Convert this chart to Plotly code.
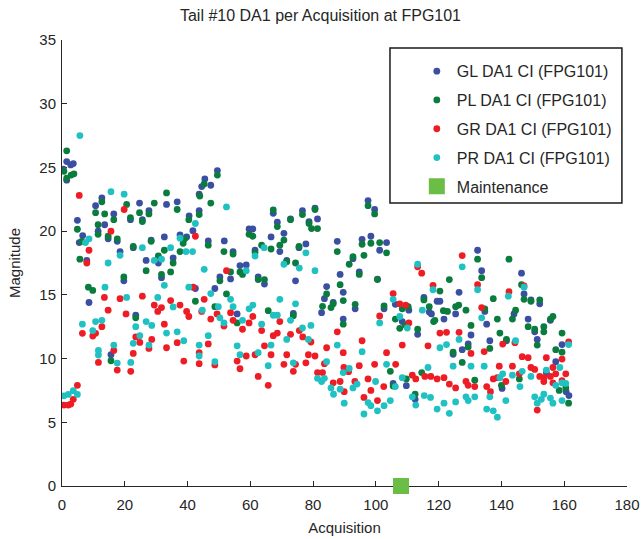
import plotly.graph_objects as go

# ---- data (acquisition index, magnitude) ----
gl_acq = [0.4,1.5,2.8,3.6,1.5,4.9,5.5,6.6,7.9,8.6,10.7,11.5,12.7,13.6,14.7,15.6,16.5,17.6,18.5,19.7,21.8,22.7,23.5,24.7,25.6,26.8,27.7,28.4,
          49.5,45.5,44.5,47.4,43.7,36.7,33.3,40.5,43.7,41.7,32.6,37.6,39.7,46.6,51.7,54.5,35.4,30.7,31.7,50.3,53.7,56.7,42.5,48.7,55.8,
          67.3,68.6,72.8,76.6,80.6,81.4,78.7,59.6,60.8,66.6,70.7,61.5,69.4,75.5,77.7,87.7,58.7,71.6,62.5,64.5,74.4,88.6,84.3,89.6,83.6,86.4,82.7,73.7,89.6,
          97.5,99.6,95.6,98.4,103.4,101.2,92.7,94.7,100.5,115.3,93.4,102.6,106.2,110.5,117,117.7,108.4,113.3,109.7,112.5,105.5,
          132.4,133.7,146.4,126.5,119.5,120.4,147.2,134.7,125.4,121.7,144,148.5,135.3,130.3,136.3,129.4,141.6,127.5,124.6,140.2,
          149.4,152.2,155.6,150.6,151.4,159.3,157.3,154.3,160.6,161.5]
gl_val = [24.86,25.46,25.2,25.3,24.0,20.85,19.1,19.65,17.7,14.4,22.0,20.0,22.6,20.5,19.4,10.3,21.35,19.2,18.4,16.1,20.9,18.7,13.4,22.2,20.9,17.7,21.6,19.3,
          24.75,24.1,23.5,23.6,22.9,22.3,22.1,21.2,21.6,20.04,19.55,19.7,19.55,19.23,19.23,18.4,17.9,17.5,16.35,16.4,16.25,17.3,15.5,15.5,13.5,
          21.4,20.7,20.96,21.6,21.8,20.96,20.75,20.17,20.17,19.55,19.83,18.5,18.4,18.7,19.0,19.2,17.35,17.7,16.4,15.85,16.1,16.6,15.65,15.2,14.7,14.4,13.6,13.55,13.1,
          22.4,21.7,19.36,19.6,19.1,18.5,17.84,16.8,16.24,14.8,13.9,13.9,14.26,13.8,13.65,13.5,12.9,11.9,7.87,6.8,8.05,
          18.5,16.9,16.7,15.2,14.5,14.5,15.07,13.7,13.5,13.1,13.5,13.1,12.7,11.85,11.4,11.15,11.4,10.7,10.33,7.66,
          14.6,14.3,13.0,12.1,11.5,11.1,9.75,8.9,7.4,7.1]

pl_acq = [0.6,1.5,1.5,2.9,3.8,4.9,6.3,5.7,8.4,9.8,10.7,11.5,11.5,12.7,13.6,14.7,15.6,16.5,17.6,19.7,20.6,21.8,22.7,23.5,24.7,25.6,26.8,27.7,28.4,29.4,
          49.5,45.3,43.9,33.3,36.7,47.4,40.4,43.7,39.1,38.6,46.6,32.6,37.6,51.6,54.5,30.7,35.4,31.7,34.6,50.3,53.7,56.7,57.5,42.5,52.4,48.7,55.8,
          67.3,68.6,72.8,76.6,80.6,81.4,78.7,79.5,59.6,60.8,70.7,63.6,69.4,66.6,75.5,87.7,61.5,71.6,74.4,62.5,64.5,88.6,84.3,89.6,83,85.7,86.4,65.7,73.7,89.6,
          97.5,99.6,95.6,98.4,103.4,101.2,96.2,92.7,91.5,94.7,100.5,93.4,102.6,106.2,108.4,110.3,107.6,109.4,113.3,115.3,117,118.4,104.6,105.5,109.7,114.6,112.5,
          132.4,142.4,133.7,123.4,120.4,147.2,137.4,146.4,126.4,125.4,121.5,122.8,128.7,144.5,143.5,134.7,138.7,130.3,148.5,118.8,139.5,141.6,129.4,136.3,124.6,127.5,131.5,140,145.7,
          149.4,152.2,155.6,156.4,150.6,153.5,153.5,159.3,151.4,157.3,159.3,158.4,160.5,161.4]
pl_val = [24.7,26.3,24.15,24.4,24.5,20.15,19.2,17.8,15.6,15.35,21.45,20.5,19.75,22.3,21.35,19.6,9.83,20.9,19.4,16.4,22.1,21.06,18.8,13.2,21.45,20.75,16.9,21.35,19.2,22.2,
          24.4,23.7,22.75,23.0,21.7,22.2,20.9,21.3,19.4,19.05,18.9,18.5,18.4,18.4,18.2,18.05,17.5,16.6,16.8,16.1,16.8,16.8,16.6,14.5,15.07,14.07,12.8,
          21.66,20.36,20.9,21.3,21.7,20.2,20.6,20.2,19.75,19.6,19.3,18.9,18.9,18.6,18.8,18.4,18.3,17.6,17.5,16.2,16.2,15.8,15.07,14.55,14.1,14.0,14.3,13.76,13.37,12.7,
          22.0,21.35,18.97,19.05,18.3,19.1,18.1,18.0,17.4,16.6,16.2,14.26,14.13,13.1,13.9,14.07,12.37,12.63,12.3,14.6,14.07,12.9,9.0,7.84,8.4,8.9,7.2,
          17.8,17.8,16.35,16.2,15.3,14.65,14.7,15.8,14.2,14.07,13.76,13.7,13.8,13.8,13.1,13.9,13.1,12.6,12.5,13.0,12.0,11.5,10.9,10.8,10.5,9.7,8.3,7.9,8.4,
          14.5,14.6,13.1,13.3,12.3,12.5,12.1,12.0,11.06,10.7,10.5,7.5,7.7,6.5]

gr_acq = [0.6,2.0,2.8,3.6,4.9,5.5,6.5,8.6,7.9,9.8,10.7,11.6,12.7,13.5,14.7,15.6,16.5,17.6,18.5,19.8,20.4,21.9,22.7,23.5,24.8,25.6,27.7,28.6,29.4,
          42.5,52.4,41.8,45.3,34.6,31.7,30.5,37.6,39.7,40.4,44.5,49.4,53.7,54.5,47.4,51.6,57.5,32.6,33.3,36.7,46.6,38.8,43.7,48.7,55.8,56.7,43.7,
          60.8,59.6,69.4,63.6,67.3,68.6,72.8,75.6,76.7,79.3,87.7,64.5,66.6,71.6,78.5,80.6,84.3,89.6,58.7,61.5,70.7,74.4,77.7,83.6,73.7,81.4,83,62.5,65.7,86.4,88.6,89.9,89.8,
          113.3,114.6,118.2,105.5,107.6,109.5,110.5,101.2,95.6,108.4,116.6,103.4,99.6,94.7,106.3,111.6,112.7,115.6,117.5,91.3,93.3,97.5,102.5,98.4,96.2,100.5,
          127.5,132.4,147.2,142.4,133.7,120.4,122.5,126.5,130.3,140.4,144.3,134.5,146.6,148.5,139.3,143.5,145.7,119.5,121.7,123.4,125.4,128.7,129.4,131.5,135.3,136.5,137.4,138.7,141.4,
          161.4,154.3,159.3,149.4,150.6,156.4,157.3,160.5,152.2,153.5,155.6,153.5,159.3,156.4,151.4]
gr_val = [6.35,6.35,6.43,6.8,7.9,22.8,11.98,18.5,17.5,11.77,11.98,9.7,12.5,14.8,13.8,20.0,10.64,9.1,14.7,21.7,13.5,9.0,10.4,11.7,11.27,14.9,10.8,11.5,14.2,
          19.6,16.9,15.6,14.65,14.55,14.0,13.7,14.2,13.7,13.3,13.7,13.5,13.6,13.0,13.1,12.55,12.3,12.7,10.85,11.25,11.15,9.8,9.6,9.5,9.8,9.2,10.46,
          13.3,12.8,12.9,12.2,11.8,12.0,11.9,12.2,11.7,11.3,12.1,11.0,10.3,10.3,10.3,10.2,10.85,10.46,10.2,10.3,9.55,9.55,9.67,9.6,9.0,8.9,8.9,8.6,7.9,8.1,8.2,7.4,9.3,
          17.2,16.7,15.75,15.1,14.3,14.2,12.8,13.34,11.4,11.06,11.0,10.46,9.55,9.44,9.55,8.7,8.4,8.6,8.6,8.97,8.2,8.4,7.8,7.5,6.95,6.7,
          18.08,15.8,15.7,15.25,14.0,12.0,12.06,12.06,10.4,11.14,11.25,10.55,10.15,10.07,9.4,9.4,8.8,8.4,8.5,8.0,7.7,8.2,7.9,7.8,7.8,7.4,8.4,8.5,8.2,
          11.3,10.07,9.96,9.3,9.15,9.3,8.8,8.8,8.6,8.5,8.6,8.2,8.26,8.1,5.96]

pr_acq = [5.7,0.6,2.0,3.6,4.9,6.5,7.5,8.6,9.8,10.7,11.6,11.6,12.7,13.7,14.7,15.6,16.5,17.6,18.5,19.8,20.6,21.9,22.7,23.5,24.8,25.6,26.8,27.7,28.6,29.4,
          52.4,42.5,37.6,34.6,39.5,41.6,31.7,45.3,32.6,40.4,47.4,30.5,53.7,35.4,44.7,49.8,54.5,50.3,51.6,57.5,33.3,36.7,38.8,46.6,43.7,55.8,56.7,43.7,48.7,
          64.4,61.5,77.7,70.7,75.6,80.6,58.7,69.4,74.4,60.8,59.6,67.3,68.6,72.8,63.6,76.6,79.3,78.5,71.6,87.7,66.6,62.5,65.7,73.7,84.3,81.4,82.7,83.6,85.7,86.5,88.6,89.6,89.9,
          113.3,118.2,105.5,114.8,107.6,101.2,110,95.6,103.4,91.5,116.6,99.9,108.4,92.7,94,106.2,97.5,98.4,102.6,104.6,100.5,96.2,111.6,115.4,117.4,112.7,
          127.5,132.4,147.2,142.2,133.7,126.5,120.4,122.5,144.5,124.6,130.3,134.5,143.5,140.4,139.5,146.6,145.9,131.5,136.3,128.7,129.4,125.4,121.7,141.4,119.5,123.4,135.3,137.4,138.7,
          161.4,154.3,158.6,149.4,157.3,159.3,160.5,150.6,153.5,155.6,156.4,151.4,152.7,159.3]
pr_val = [27.5,7.08,7.19,7.48,7.19,12.7,19.1,19.4,12.2,12.9,10.64,10.28,13.0,15.6,17.5,23.1,11.06,9.65,18.1,22.9,14.8,9.7,11.2,12.5,11.8,18.7,12.9,11.06,12.6,17.7,
          21.9,20.6,19.45,18.7,18.4,18.4,17.8,17.0,15.75,15.6,15.1,14.8,14.65,14.05,13.8,14.07,14.07,13.2,12.8,13.0,12.0,12.1,11.4,11.8,11.06,11.0,10.3,10.2,9.75,
          18.7,18.05,18.3,17.4,17.1,16.9,16.9,14.65,14.3,14.2,13.9,13.4,13.4,13.0,12.7,12.4,12.6,11.5,11.5,11.06,11.06,10.46,9.44,9.67,9.75,8.45,8.2,8.45,7.7,7.2,7.6,8.9,6.5,
          17.4,15.4,14.65,13.8,13.3,12.8,12.4,10.54,9.55,9.23,9.3,8.2,8.5,7.7,8.0,7.8,6.55,6.3,6.3,6.7,5.9,5.65,7.0,7.1,6.95,6.35,
          17.2,15.4,15.6,14.9,13.2,11.5,10.85,11.1,11.4,9.4,9.4,9.4,8.7,8.8,8.5,9.0,7.8,7.0,7.0,7.0,6.7,6.6,6.5,6.7,6.04,5.7,6.04,5.9,5.4,
          11.1,9.1,9.3,8.6,7.9,8.1,8.05,7.0,7.2,6.9,6.5,6.5,6.8,6.7]

maint_acq = [108]
maint_val = [0]

series_names = ["GL DA1 CI (FPG101)", "PL DA1 CI (FPG101)", "GR DA1 CI (FPG101)", "PR DA1 CI (FPG101)"]
x_ticks = [0, 20, 40, 60, 80, 100, 120, 140, 160, 180]
y_ticks = [0, 5, 10, 15, 20, 25, 30, 35]

colors = ["#3a4ea2", "#0a7c3d", "#ee1d25", "#20c1c3"]
FONT = "Liberation Sans, Arial, sans-serif"
TXT = "#262626"

fig = go.Figure()
for i, (xs, ys) in enumerate([(gl_acq, gl_val), (pl_acq, pl_val), (gr_acq, gr_val), (pr_acq, pr_val)]):
    fig.add_trace(go.Scatter(
        x=xs, y=ys, mode="markers", name=series_names[i], legendgroup=str(i),
        marker=dict(color=colors[i], size=6.8, line=dict(width=0)),
    ))
fig.add_trace(go.Scatter(
    x=maint_acq, y=maint_val, mode="markers", name="Maintenance", legendgroup="m",
    marker=dict(color="#6abd45", size=16, symbol="square", line=dict(width=0)),
    cliponaxis=False,
))

axis_common = dict(
    showgrid=False, zeroline=False, showline=True, linecolor=TXT, linewidth=1,
    ticks="inside", ticklen=5, tickwidth=1, tickcolor=TXT,
    tickfont=dict(family=FONT, size=15, color=TXT), mirror=False,
    layer="below traces", automargin=False,
)
fig.update_layout(
    width=641, height=539,
    margin=dict(l=62, r=14, t=40, b=53),
    paper_bgcolor="white", plot_bgcolor="white",
    title=dict(text="Tail #10 DA1 per Acquisition at FPG101", x=0.5, xanchor="center",
               y=0.972, yanchor="middle", font=dict(family=FONT, size=16, color=TXT)),
    xaxis=dict(range=[0, 180], tickvals=x_ticks, ticktext=[str(v) for v in x_ticks],
               ticklabelstandoff=5,
               title=dict(text="Acquisition", font=dict(family=FONT, size=15, color=TXT), standoff=10),
               **axis_common),
    yaxis=dict(range=[0, 35], tickvals=y_ticks, ticktext=[str(v) for v in y_ticks],
               ticklabelstandoff=2,
               title=dict(text="Magnitude", font=dict(family=FONT, size=15, color=TXT), standoff=15),
               **axis_common),
    legend=dict(x=0.628, xanchor="left", y=0.968, yanchor="top",
                borderwidth=0, bgcolor="rgba(0,0,0,0)",
                font=dict(family=FONT, size=16, color=TXT), tracegroupgap=5,
                itemwidth=30),
    shapes=[dict(type="rect", xref="paper", yref="paper",
                 x0=0.5805, x1=0.991, y0=0.6345, y1=0.982,
                 line=dict(color="#1a1a1a", width=1.5), fillcolor="white", layer="below")],
    showlegend=True,
    hovermode=False,
)
fig.write_html(
    "out.html",
    config={"displayModeBar": False, "staticPlot": True},
    post_script="document.body.style.margin='0';document.documentElement.style.overflow='hidden';",
)
